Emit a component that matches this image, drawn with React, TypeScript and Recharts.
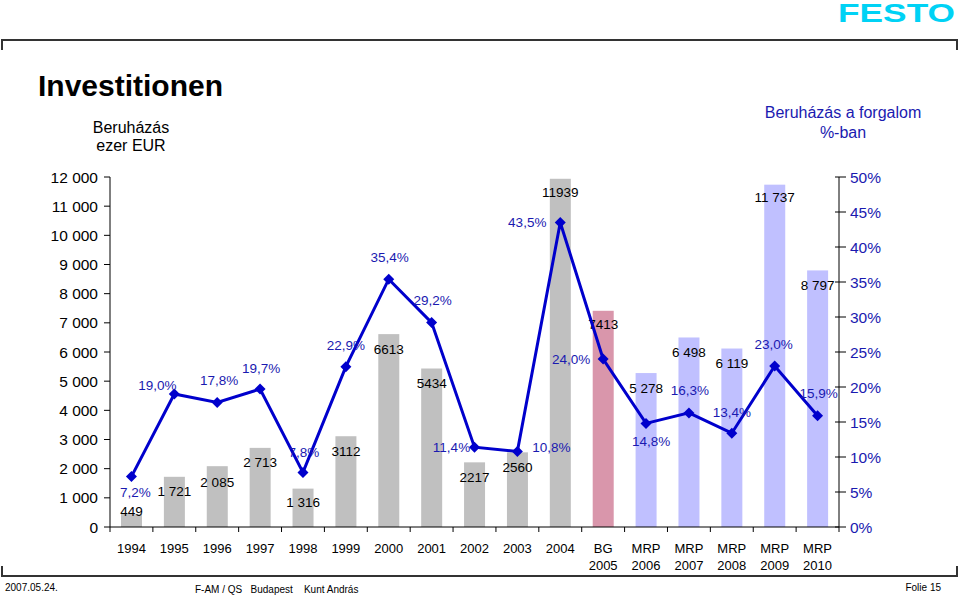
import React from "react";
import { ComposedChart, Bar, Line, XAxis, YAxis } from "recharts";

const categories = [
  "1994", "1995", "1996", "1997", "1998", "1999", "2000", "2001", "2002", "2003", "2004",
  "BG\n2005", "MRP\n2006", "MRP\n2007", "MRP\n2008", "MRP\n2009", "MRP\n2010",
];
const investment = [449, 1721, 2085, 2713, 1316, 3112, 6613, 5434, 2217, 2560, 11939, 7413, 5278, 6498, 6119, 11737, 8797];
const investmentLabels = [
  "449", "1 721", "2 085", "2 713", "1 316", "3112", "6613", "5434", "2217", "2560", "11939",
  "7413", "5 278", "6 498", "6 119", "11 737", "8 797",
];
const ratio = [7.2, 19.0, 17.8, 19.7, 7.8, 22.9, 35.4, 29.2, 11.4, 10.8, 43.5, 24.0, 14.8, 16.3, 13.4, 23.0, 15.9];
const leftTicks = [0, 1000, 2000, 3000, 4000, 5000, 6000, 7000, 8000, 9000, 10000, 11000, 12000];
const rightTicks = [0, 5, 10, 15, 20, 25, 30, 35, 40, 45, 50];

const data = categories.map((c, i) => ({
  name: c,
  investment: investment[i],
  label: investmentLabels[i],
  ratio: ratio[i],
}));

// label placement tweaks (px) so the texts sit where the slide has them
const pctOffsets: [number, number][] = [
  [4, 16], [-17, -9], [2, -22], [1, -21], [1, -20], [0, -21], [1, -22], [1, -22], [-23, 0],
  [34, -4], [-33, 0], [-32, 0], [5, 18], [1, -22], [0, -21], [-1, -22], [1, -22],
];
const valueDy = [-2, 15, 16, 15, 14, 15, 15, 15, 15, 15, 14, 14, 15, 15, 15, 13, 15];

const FONT = "'Liberation Sans', Arial, sans-serif";
const BLUE = "#0000CC";
const TEXT_BLUE = "#1A1AB0";
const W = 960;
const H = 597;
const LEFT_W = 110;
const RIGHT_W = 121;
const TOP = 177;
const X_H = 70;
const BAND = (W - LEFT_W - RIGHT_W) / categories.length;

const barColor = (name: string) => {
  if (name.startsWith("BG")) return "#D996AB";
  if (name.startsWith("MRP")) return "#C0C0FF";
  return "#C0C0C0";
};

const fmtPct = (v: number) => v.toFixed(1).replace(".", ",") + "%";

const XTick = (props: any) => {
  const { x, y, payload, index } = props;
  const lines = String(payload.value).split("\n");
  const half = BAND / 2;
  return (
    <g>
      <line x1={x - half} x2={x - half} y1={y} y2={y + 5} stroke="#000" />
      {index === categories.length - 1 && (
        <line x1={x + half} x2={x + half} y1={y} y2={y + 5} stroke="#000" />
      )}
      <text x={x} y={y + 26} textAnchor="middle" fontSize={13} fill="#000" fontFamily={FONT}>
        {lines.map((l, i) => (
          <tspan key={i} x={x} dy={i === 0 ? 0 : 17}>
            {l}
          </tspan>
        ))}
      </text>
    </g>
  );
};

// right axis ticks cross the axis line like on the slide
const RightTick = (props: any) => {
  const { x, y, payload } = props;
  return (
    <g>
      <line x1={x - 4} x2={x + 7} y1={y} y2={y} stroke="#000" />
      <text x={x + 11} y={y} dy="0.355em" fontSize={15.5} fill={TEXT_BLUE} fontFamily={FONT}>
        {`${payload.value}%`}
      </text>
    </g>
  );
};

const BarShape = (props: any) => {
  const { x, y, width, height, index, payload } = props;
  return (
    <g>
      <rect x={x} y={y} width={width} height={height} fill={barColor(payload.name)} />
      <text
        x={x + width / 2}
        y={y + valueDy[index]}
        textAnchor="middle"
        dominantBaseline="central"
        fontSize={13.5}
        fill="#000"
        fontFamily={FONT}
      >
        {payload.label}
      </text>
    </g>
  );
};

const Diamond = (props: any) => {
  const { cx, cy, index, value } = props;
  if (cx == null || cy == null) return null;
  const s = 5.5;
  const [dx, dy] = pctOffsets[index];
  return (
    <g key={`d-${index}`}>
      <polygon points={`${cx},${cy - s} ${cx + s},${cy} ${cx},${cy + s} ${cx - s},${cy}`} fill={BLUE} />
      <text
        x={cx + dx}
        y={cy + dy}
        textAnchor="middle"
        dominantBaseline="central"
        fontSize={13.5}
        fill={TEXT_BLUE}
        fontFamily={FONT}
      >
        {fmtPct(value)}
      </text>
    </g>
  );
};

export default function App() {
  return (
    <div style={{ position: "absolute", left: 0, top: 0, width: W, height: H, background: "#fff" }}>
      <ComposedChart width={W} height={H} data={data} margin={{ top: TOP, right: 0, bottom: 0, left: 0 }}>
        <XAxis
          dataKey="name"
          height={X_H}
          interval={0}
          tickLine={false}
          tickSize={0}
          tickMargin={0}
          axisLine={{ stroke: "#000" }}
          tick={<XTick />}
        />
        <YAxis
          yAxisId="left"
          width={LEFT_W}
          domain={[0, 12000]}
          ticks={leftTicks}
          interval={0}
          tickSize={6}
          tickMargin={6}
          axisLine={{ stroke: "#000" }}
          tickLine={{ stroke: "#000" }}
          tick={{ fill: "#000", fontSize: 15.5, fontFamily: FONT }}
          tickFormatter={(v: number) => (v === 0 ? "0" : `${v / 1000} 000`)}
        />
        <YAxis
          yAxisId="right"
          orientation="right"
          width={RIGHT_W}
          domain={[0, 50]}
          ticks={rightTicks}
          interval={0}
          tickSize={0}
          tickMargin={0}
          axisLine={{ stroke: "#000" }}
          tickLine={false}
          tick={<RightTick />}
        />
        <Bar yAxisId="left" dataKey="investment" barSize={21} shape={<BarShape />} isAnimationActive={false} />
        <Line
          yAxisId="right"
          dataKey="ratio"
          type="linear"
          stroke={BLUE}
          strokeWidth={3}
          dot={<Diamond />}
          activeDot={false}
          isAnimationActive={false}
        />
      </ComposedChart>
      <svg
        width={W}
        height={H}
        style={{ position: "absolute", left: 0, top: 0, pointerEvents: "none" }}
        fontFamily={FONT}
      >
        <text x={838} y={22} fontSize={25} fontWeight="bold" fill="#00D2F5" textLength={117} lengthAdjust="spacingAndGlyphs">
          FESTO
        </text>
        <polyline points="2,50 2,40 957,40 957,50" fill="none" stroke="#333" strokeWidth={2} />
        <polyline points="2,566 2,576 957,576 957,566" fill="none" stroke="#333" strokeWidth={2} />
        <text x={38} y={96} fontSize={30} fontWeight="bold" fill="#000">
          Investitionen
        </text>
        <text x={131} y={133} fontSize={16} textAnchor="middle" fill="#000">
          Beruházás
        </text>
        <text x={131} y={151} fontSize={16} textAnchor="middle" fill="#000">
          ezer EUR
        </text>
        <text x={843} y={118} fontSize={16} textAnchor="middle" fill={TEXT_BLUE}>
          Beruházás a forgalom
        </text>
        <text x={843} y={138} fontSize={16} textAnchor="middle" fill={TEXT_BLUE}>
          %-ban
        </text>
        <text x={5} y={591} fontSize={10} fill="#000">
          2007.05.24.
        </text>
        <text x={195} y={593} fontSize={10} fill="#000" style={{ whiteSpace: "pre" }}>
          F-AM / QS   Budapest    Kunt András
        </text>
        <text x={941} y={591} fontSize={10} textAnchor="end" fill="#000">
          Folie 15
        </text>
      </svg>
    </div>
  );
}
